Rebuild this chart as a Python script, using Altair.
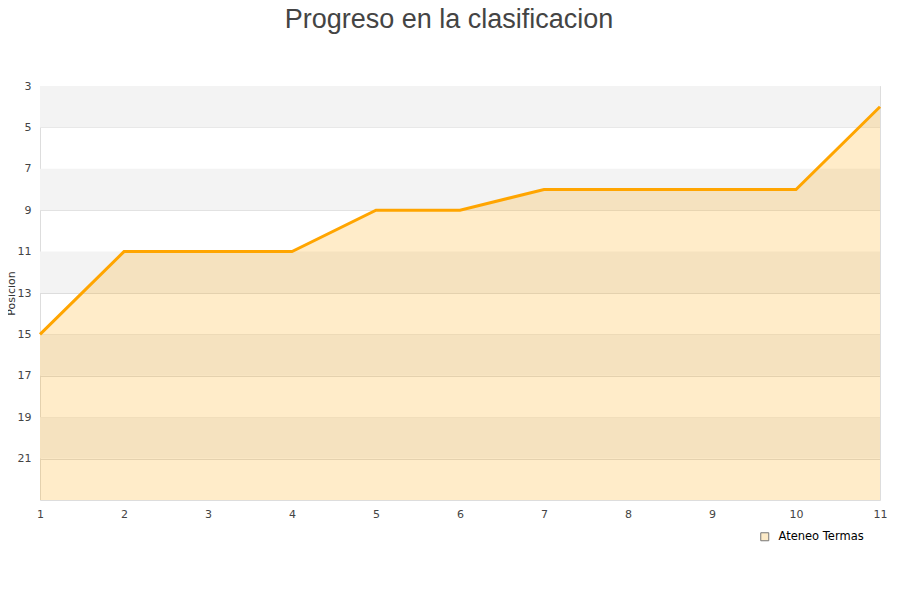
import altair as alt
import pandas as pd

jornadas = [1, 2, 3, 4, 5, 6, 7, 8, 9, 10, 11]
posiciones = [15, 11, 11, 11, 9, 9, 8, 8, 8, 8, 4]
equipo = "Ateneo Termas"
band_start = [3, 7, 11, 15, 19]
band_end = [5, 9, 13, 17, 21]
y_ticks = [3, 5, 7, 9, 11, 13, 15, 17, 19, 21]

df = pd.DataFrame({"Jornada": jornadas, "Posicion": posiciones,
                   "base": [23] * len(jornadas), "serie": [equipo] * len(jornadas)})
bands = pd.DataFrame({"y1": band_start, "y2": band_end})

xs = alt.Scale(domain=[1, 11], nice=False, zero=False)
ys = alt.Scale(domain=[3, 23], reverse=True, nice=False, zero=False)

y_axis = alt.Axis(values=y_ticks, title="Posicion", grid=True, gridColor="#dddddd",
                  ticks=False, domain=False, labelPadding=9,
                  labelFontSize=11, labelColor="#444", labelFont="DejaVu Sans",
                  titleFontSize=11, titleFontWeight="normal", titleColor="#333",
                  titleFont="DejaVu Sans", titleX=-24, titleY=207)
x_axis = alt.Axis(values=jornadas, format="d", title=None, grid=False,
                  ticks=False, domain=False, labelPadding=8, labelFlush=False,
                  labelFontSize=11, labelColor="#444", labelFont="DejaVu Sans")

band_layer = alt.Chart(bands).mark_rect(color="#f3f3f3").encode(
    x=alt.value(0), x2=alt.value(840),
    y=alt.Y("y1:Q", scale=ys, axis=y_axis), y2="y2:Q")

area_layer = alt.Chart(df).mark_area(color="#FFA500", opacity=0.21).encode(
    x=alt.X("Jornada:Q", scale=xs, axis=x_axis),
    y=alt.Y("Posicion:Q", scale=ys, axis=y_axis),
    y2="base:Q")

line_layer = alt.Chart(df).mark_line(color="#FFA500", strokeWidth=3).encode(
    x=alt.X("Jornada:Q", scale=xs, axis=x_axis), y=alt.Y("Posicion:Q", scale=ys, axis=y_axis))

legend_layer = alt.Chart(df).mark_point(opacity=0, filled=True).encode(
    x=alt.X("Jornada:Q", scale=xs, axis=x_axis), y=alt.Y("Posicion:Q", scale=ys, axis=y_axis),
    fill=alt.Fill("serie:N", scale=alt.Scale(range=["#fdebc8"]),
                  legend=alt.Legend(title=None, orient="none", legendX=719, legendY=445,
                                    symbolType="square", symbolSize=64, symbolOpacity=1,
                                    symbolStrokeColor="#777777", symbolStrokeWidth=1,
                                    labelFontSize=11.5, labelColor="#000",
                                    labelFont="DejaVu Sans", labelOffset=8)))

chart = alt.layer(band_layer, area_layer, line_layer, legend_layer).properties(
    width=840, height=414,
    title=alt.TitleParams("Progreso en la clasificacion", fontSize=27, font="Liberation Sans",
                          fontWeight="normal", color="#444", anchor="middle",
                          offset=46, dx=-11),
    autosize=alt.AutoSizeParams(type="none"),
    padding={"left": 32, "top": 78, "right": 8, "bottom": 70},
).configure_view(stroke="#d9d9d9", strokeWidth=1).configure(background="white")

chart.save("out.html", embed_options={"renderer": "svg", "actions": False})
